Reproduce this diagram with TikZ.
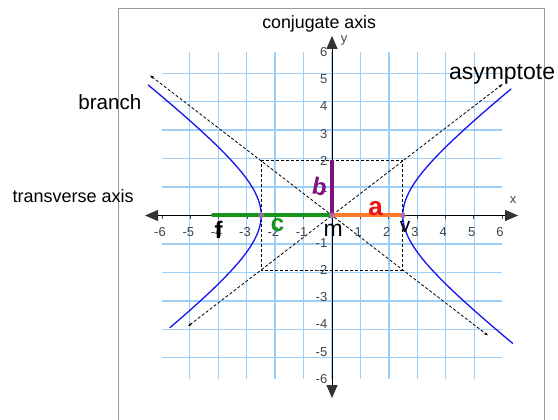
\documentclass[tikz,border=0pt]{standalone}
\usepackage{fontspec}
\setmainfont{Liberation Sans}
\usetikzlibrary{arrows.meta}
\definecolor{gridblue}{HTML}{9ECFF8}
\definecolor{axgray}{HTML}{333333}
\definecolor{ticklab}{HTML}{444444}
\definecolor{segorange}{HTML}{FF7A2C}
\definecolor{seggreen}{HTML}{16951A}
\definecolor{segpurple}{HTML}{7E127E}
\definecolor{hyblue}{HTML}{1414F0}
\definecolor{framegray}{HTML}{9A9A9A}
\definecolor{dotpurple}{HTML}{B070B0}
\definecolor{handred}{HTML}{F01010}
\begin{document}
\begin{tikzpicture}[x=1pt,y=-1pt,
  txt/.style={inner sep=0pt,outer sep=0pt,text=black},
  ticklabel/.style={inner sep=0pt,text=ticklab,font=\fontsize{13}{13}\selectfont},
  gridline/.style={gridblue,line width=1.3pt},
  boxline/.style={black,line width=1pt,dash pattern=on 3pt off 2pt},
  asym/.style={black,line width=0.8pt,dash pattern=on 3pt off 2pt,{Stealth[length=4pt,width=3pt]}-{Stealth[length=4pt,width=3pt]}},
  axisline/.style={black,line width=1pt,{Triangle[length=13pt,width=11pt,color=axgray]}-{Triangle[length=13pt,width=11pt,color=axgray]}},
  hyp/.style={hyblue,line width=1.3pt},
  seg/.style={line width=4pt},
  vdot/.style={circle,fill=dotpurple,inner sep=0pt,minimum size=6pt}]
\useasboundingbox (0,0) rectangle (558,420);
\fill[white] (0,0) rectangle (558,420);
% frame
\coordinate (fbl) at (118,421);
\coordinate (ftl) at (118,9);
\coordinate (ftr) at (544,9);
\coordinate (fbr) at (544,421);
\draw[framegray,line width=1pt] (fbl) -- (ftl) -- (ftr) -- (fbr);
\begin{scope}[shift={(332pt,-215.5pt)},x=28.33pt,y=27.25pt]
  \draw[gridline] (-6,-6) grid (6,6);
  % dashed box
  \coordinate (b1) at (-2.5,2);
  \coordinate (b2) at (2.5,2);
  \coordinate (b3) at (2.5,-2);
  \coordinate (b4) at (-2.5,-2);
  \draw[boxline] (b1) -- (b2) -- (b3) -- (b4) -- cycle;
  % asymptotes
  \coordinate (a1s) at (-6.42,5.14);
  \coordinate (a1e) at (5.5,-4.4);
  \coordinate (a2s) at (-5.08,-4.06);
  \coordinate (a2e) at (6.02,4.82);
  \draw[asym] (a1s) -- (a1e);
  \draw[asym] (a2s) -- (a2e);
  % axes
  \coordinate (xl) at (-6.6,0);
  \coordinate (xr) at (6.57,0);
  \coordinate (yb) at (0,-6.7);
  \coordinate (yt) at (0,6.59);
  \foreach \i in {-6,...,6} {\draw[ticklab,line width=0.6pt] (\i,0) -- ++(0,-4pt);}
  \draw[axisline] (xl) -- (xr);
  \draw[axisline] (yb) -- (yt);
  % tick labels
  \foreach \i in {-6,-5,-4,-3,-2,-1,1,2,3,4,5,6} {
    \node[ticklabel] (tx\i) at ([xshift=-2pt,yshift=-16.2pt]\i,0) {\i};
    \node[ticklabel,anchor=east] (ty\i) at ([xshift=-4.5pt]0,\i) {\i};
  }
  \node[ticklabel] (xlab) at ([xshift=181pt,yshift=15pt]0,0) {x};
  \node[ticklabel] (ylab) at ([xshift=12pt,yshift=175pt]0,0) {y};
  % hyperbola
  \draw[hyp] plot[domain=-1.59:1.58,samples=90,smooth] ({2.5*cosh(\x)},{2*sinh(\x)});
  \draw[hyp] plot[domain=-1.47:1.61,samples=90,smooth] ({-2.5*cosh(\x)},{2*sinh(\x)});
  % segments
  \coordinate (o) at (0,0);
  \coordinate (fpt) at (-4.2,0);
  \coordinate (vpt) at (2.5,0);
  \coordinate (bpt) at (0,2.05);
  \draw[seg,seggreen,line cap=round] (fpt) -- (o);
  \draw[seg,segorange] (o) -- (vpt);
  \draw[seg,segpurple] (o) -- (bpt);
  \node[vdot,opacity=0.8] (dv) at (vpt) {};
  \node[vdot,opacity=0.8] (dl) at (-2.5,0) {};
  \node[vdot,opacity=0.8] (dm) at (o) {};
\end{scope}
% texts
\node[txt,anchor=base west,font=\fontsize{17.8}{18}\selectfont] (conj) at (262.3,29) {conjugate axis};
\node[txt,anchor=base west,font=\fontsize{23}{23}\selectfont] (asy) at (449,80) {asymptote};
\node[txt,anchor=base west,font=\fontsize{20.6}{21}\selectfont] (br) at (78.3,109.3) {branch};
\node[txt,anchor=base west,font=\fontsize{18}{18}\selectfont] (tr) at (12.7,202.7) {transverse axis};
\node[txt,anchor=base,font=\fontsize{23}{23}\selectfont] (mlab) at (333.3,236.7) {m};
\node[txt,anchor=base,font=\fontsize{24}{24}\selectfont\bfseries] (flab) at (218.5,238.5) {f};
\node[txt,anchor=base,font=\fontsize{21}{21}\selectfont] (vlab) at (405,233) {v};
\node[txt,anchor=base,text=seggreen,font=\fontsize{24}{24}\selectfont\bfseries] (clab) at (277.5,231.5) {c};
\node[txt,anchor=base,text=handred,font=\fontsize{26}{26}\selectfont\bfseries] (alab) at (375.5,215) {a};
\node[txt,anchor=base,text=segpurple,rotate=-12,font=\fontsize{24}{24}\selectfont\bfseries] (blab) at (318,195) {b};
\end{tikzpicture}
\end{document}
